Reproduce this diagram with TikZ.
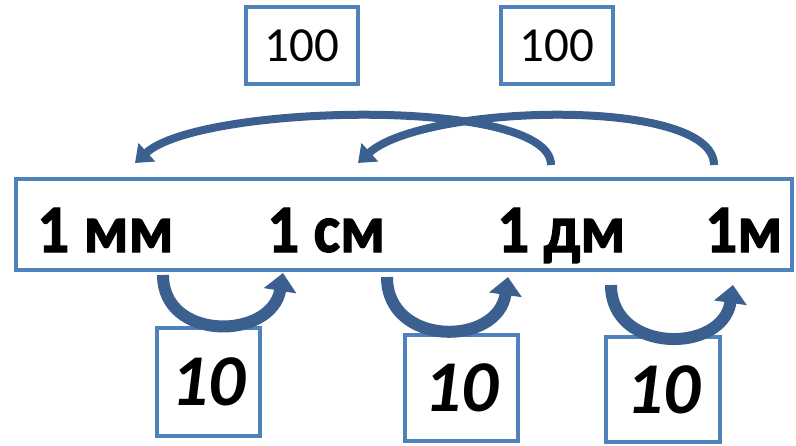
\documentclass[tikz,border=0pt]{standalone}
\usepackage{fontspec}
\setmainfont{Carlito}
\newfontfamily\unitfont[FakeStretch=0.93,FakeBold=1.6]{Carlito Bold}
\usetikzlibrary{arrows.meta}
\definecolor{boxblue}{HTML}{4F81BD}
\definecolor{arcblue}{HTML}{3B5F8E}
\begin{document}
\begin{tikzpicture}[x=1pt,y=-1pt,
  box/.style={draw=boxblue,line width=4pt,inner sep=0pt,fill=white},
  topnum/.style={box,minimum width=112pt,minimum height=77pt,font=\fontsize{49}{49}\selectfont},
  botnum/.style={box,font=\fontsize{73}{73}\selectfont\bfseries\itshape},
  unit/.style={anchor=base west,inner sep=0pt,font=\fontsize{68}{68}\unitfont},
  toparc/.style={draw=arcblue,line width=8pt,-{Triangle[width=24pt,length=16pt]}},
  botarc/.style={draw=arcblue,line width=12pt,-{Triangle[width=32pt,length=18pt]}}
]
\useasboundingbox (0,0) rectangle (796,445);

% top boxes
\node[topnum] (h1) at (302,45.5) {100};
\node[topnum] (h2) at (557,45.5) {100};

% main strip
\node[box,minimum width=776pt,minimum height=91pt] (strip) at (404,224.5) {};
\node[unit] (mm) at (37,252) {1 мм};
\node[unit] (cm) at (267,252) {1 см};
\node[unit] (dm) at (497,252) {1 дм};
\node[unit] (m)  at (705,252) {1м};

% top arc end points
\coordinate (t1s) at (551,165);
\coordinate (t1e) at (135,163);
\coordinate (t2s) at (714,165);
\coordinate (t2e) at (358,163);
\draw[toparc] (t1s) .. controls (551,96) and (200,104) .. (t1e);
\draw[toparc] (t2s) .. controls (714,96) and (423,104) .. (t2e);

% bottom boxes
\node[botnum,minimum width=103pt,minimum height=108pt] (b1) at (208.5,382) {10};
\node[botnum,minimum width=113pt,minimum height=106pt] (b2) at (461.5,388) {10};
\node[botnum,minimum width=114pt,minimum height=105pt] (b3) at (663,389.5) {10};

% bottom arc end points
\coordinate (a1s) at (163,275);
\coordinate (a1e) at (283,273);
\coordinate (a2s) at (387,277);
\coordinate (a2e) at (508,277);
\coordinate (a3s) at (611,285);
\coordinate (a3e) at (733,285);
\draw[botarc] (a1s) .. controls (163,342) and (272,340) .. (a1e);
\draw[botarc] (a2s) .. controls (387,347) and (498,347) .. (a2e);
\draw[botarc] (a3s) .. controls (611,354) and (723,354) .. (a3e);
\end{tikzpicture}
\end{document}
